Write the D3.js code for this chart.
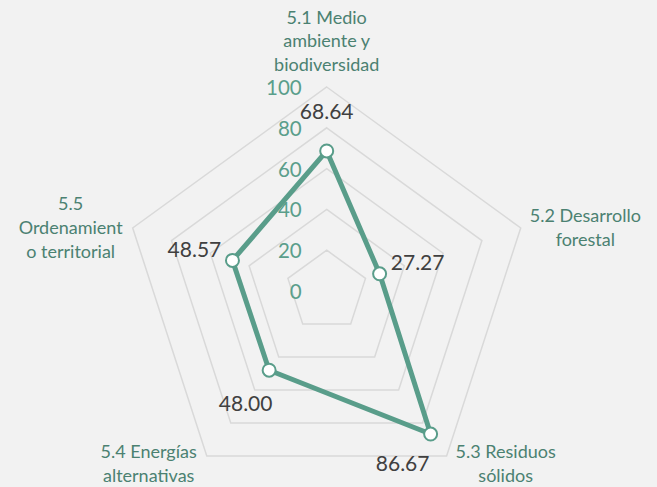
<!DOCTYPE html>
<html><head><meta charset="utf-8">
<script src="https://cdn.jsdelivr.net/npm/d3@7"></script>
<style>
html,body{margin:0;padding:0;background:#f2f2f2;}
svg{display:block;}
text{font-family:Lato,"Open Sans",sans-serif;}
</style></head>
<body>
<script>
const categories = [
  ["5.1 Medio", "ambiente y", "biodiversidad"],
  ["5.2 Desarrollo", "forestal"],
  ["5.3 Residuos", "sólidos"],
  ["5.4 Energías", "alternativas"],
  ["5.5", "Ordenamient", "o territorial"]
];
const values = [68.64, 27.27, 86.67, 48.00, 48.57];
const tickValues = [0, 20, 40, 60, 80, 100];

const W = 657, H = 487;
const cx = 326.7, cy = 291, R = 204;
const seriesColor = "#599d8a", tickColor = "#5a9e8b", catColor = "#4b8171", labColor = "#404040";

const svg = d3.select("body").append("svg").attr("width", W).attr("height", H);
svg.append("rect").attr("width", W).attr("height", H).attr("fill", "#f2f2f2");

const r = d3.scaleLinear().domain([0, 100]).range([0, R]);
const n = categories.length;
const ang = i => i * 2 * Math.PI / n;
const pt = (i, v) => [cx + r(v) * Math.sin(ang(i)), cy - r(v) * Math.cos(ang(i))];

// grid pentagons
const g = svg.append("g");
tickValues.filter(t => t > 0).forEach(t => {
  g.append("path")
    .attr("d", d3.line()(d3.range(n).map(i => pt(i, t))) + "Z")
    .attr("fill", "none").attr("stroke", "#d9d9d9").attr("stroke-width", 1.5);
});

// tick labels
svg.append("g").selectAll("text").data(tickValues).join("text")
  .attr("x", cx - 25).attr("y", d => cy - r(d))
  .attr("text-anchor", "end").attr("dominant-baseline", "central")
  .attr("font-size", 20.5).attr("fill", tickColor).text(d => d);

// series line
svg.append("path")
  .attr("d", d3.line()(values.map((v, i) => pt(i, v))) + "Z")
  .attr("fill", "none").attr("stroke", seriesColor).attr("stroke-width", 5)
  .attr("stroke-linejoin", "round");

// markers
svg.append("g").selectAll("circle").data(values).join("circle")
  .attr("cx", (d, i) => pt(i, d)[0]).attr("cy", (d, i) => pt(i, d)[1])
  .attr("r", 6.5).attr("fill", "#fff").attr("stroke", seriesColor).attr("stroke-width", 2);

// data labels: radial offset, the 5.3 label is shifted to the lower left
const labelDir = i => i === 2 ? [-0.7, 0.7] : [Math.sin(ang(i)), -Math.cos(ang(i))];
svg.append("g").selectAll("text").data(values).join("text")
  .attr("x", (d, i) => pt(i, d)[0] + 40 * labelDir(i)[0])
  .attr("y", (d, i) => pt(i, d)[1] + 40 * labelDir(i)[1])
  .attr("text-anchor", "middle").attr("dominant-baseline", "central")
  .attr("font-size", 21).attr("fill", labColor).text(d => d.toFixed(2));

// category labels
const lh = 23.6;
categories.forEach((lines, i) => {
  const [vx, vy] = pt(i, 100);
  const s = Math.sin(ang(i)), c = Math.cos(ang(i));
  const grp = svg.append("g");
  const ts = lines.map((l, k) => grp.append("text").attr("font-size", 18)
    .attr("fill", catColor).attr("text-anchor", "middle").text(l));
  const wmax = d3.max(ts, t => t.node().getComputedTextLength());
  let bx, firstBase;
  if (Math.abs(s) < 0.1) { bx = vx; firstBase = vy - 16 - lh * (lines.length - 1); }
  else {
    bx = s > 0 ? vx + 9 + wmax / 2 : vx - 10 - wmax / 2;
    if (c > 0) firstBase = vy + 6 - lh * (lines.length - 1) / 2;
    else firstBase = vy + 2;
  }
  ts.forEach((t, k) => t.attr("x", bx).attr("y", firstBase + k * lh));
});
</script>
</body></html>
